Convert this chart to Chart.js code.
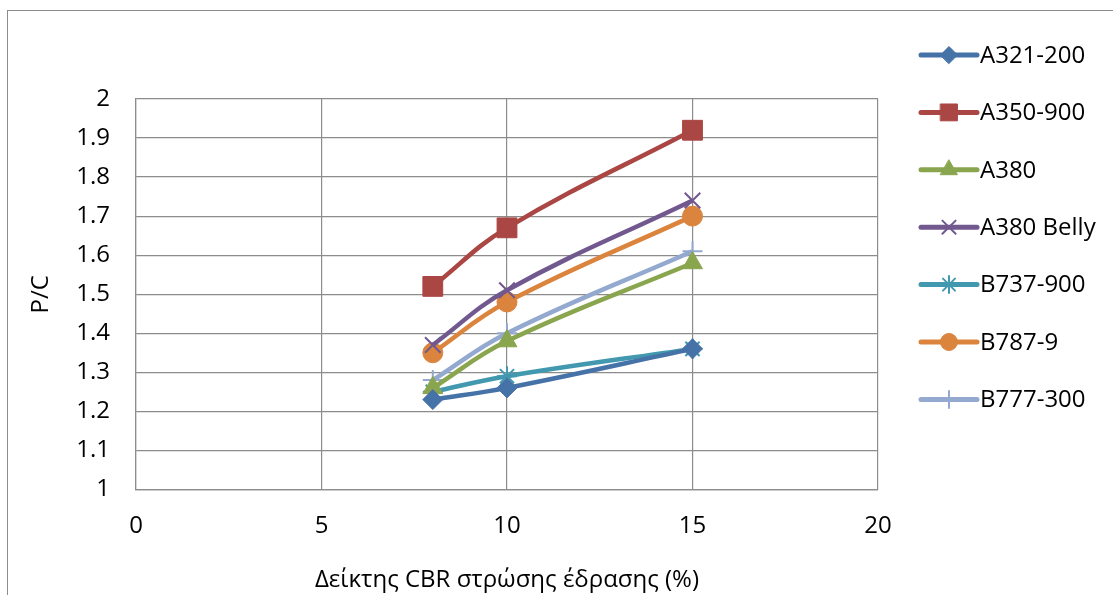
<!DOCTYPE html>
<html>
<head>
<meta charset="utf-8">
<script src="https://cdn.jsdelivr.net/npm/chart.js@4"></script>
<style>
  body { margin: 0; background: #fff; }
  #frame { position: absolute; left: 7px; top: 10px; width: 1200px; height: 700px; border: 1.5px solid #8c8c8c; }
  #wrap { position: absolute; left: 0; top: 0; width: 1113px; height: 595px; }
</style>
</head>
<body>
<div id="frame"></div>
<div id="wrap"><canvas id="lineChart"></canvas></div>
<script>
const cbr = [8, 10, 15]
const seriesNames = ['A321-200', 'A350-900', 'A380', 'A380 Belly', 'B737-900', 'B787-9', 'B777-300']
const a321 = [1.23, 1.26, 1.36]
const a350 = [1.52, 1.67, 1.92]
const a380 = [1.26, 1.38, 1.58]
const a380Belly = [1.37, 1.51, 1.74]
const b737 = [1.25, 1.29, 1.36]
const b787 = [1.35, 1.48, 1.70]
const b777 = [1.28, 1.40, 1.61]
const yTicks = [1, 1.1, 1.2, 1.3, 1.4, 1.5, 1.6, 1.7, 1.8, 1.9, 2]
const xTicks = [0, 5, 10, 15, 20]

const allValues = [a321, a350, a380, a380Belly, b737, b787, b777]
const colors = ['#4572A7', '#AA4643', '#89A54E', '#71588F', '#4198AF', '#DB843D', '#93A9CF']
const markers = [
    { style: 'rectRot', radius: 10, filled: true },
    { style: 'rect', radius: 14, filled: true },
    { style: 'triangle', radius: 11.5, filled: true },
    { style: 'crossRot', radius: 11, filled: false },
    { style: 'star', radius: 10, filled: false },
    { style: 'circle', radius: 10, filled: true },
    { style: 'cross', radius: 10, filled: false }
]

const font = "'Open Sans', 'Noto Sans', sans-serif"
const fontSize = 24

const datasets = allValues.map((values, i) => ({
    label: seriesNames[i],
    data: values.map((v, j) => ({ x: cbr[j], y: v })),
    borderColor: colors[i],
    backgroundColor: colors[i],
    borderWidth: 4.5,
    tension: 0.4,
    pointStyle: markers[i].style,
    pointRadius: markers[i].radius,
    pointBorderWidth: markers[i].filled ? 1 : 2,
    pointBorderColor: colors[i],
    pointBackgroundColor: colors[i]
}))

// legend drawn as Excel does: a short line with the marker in the middle
const sideLegend = {
    id: 'sideLegend',
    afterDraw(chart) {
        const ctx = chart.ctx
        const x0 = 921, x1 = 977, top = 55, step = 57.4
        chart.data.datasets.forEach((ds, i) => {
            const y = top + i * step
            ctx.save()
            ctx.strokeStyle = ds.borderColor
            ctx.lineWidth = 5
            ctx.lineCap = 'round'
            ctx.beginPath()
            ctx.moveTo(x0, y)
            ctx.lineTo(x1, y)
            ctx.stroke()
            ctx.fillStyle = ds.backgroundColor
            ctx.lineWidth = ds.pointBorderWidth
            Chart.helpers.drawPoint(ctx, { pointStyle: ds.pointStyle, radius: ds.pointRadius * 0.85, rotation: 0, borderWidth: ds.pointBorderWidth }, (x0 + x1) / 2, y)
            ctx.fillStyle = '#000'
            ctx.font = fontSize + "px " + font
            ctx.textBaseline = 'middle'
            ctx.textAlign = 'left'
            ctx.fillText(ds.label, 980, y + 1)
            ctx.restore()
        })
    }
}

new Chart("lineChart", {
    type: "scatter",
    data: { datasets: datasets },
    plugins: [sideLegend],
    options: {
        responsive: true,
        maintainAspectRatio: false,
        animation: false,
        showLine: true,
        layout: { padding: { left: 27, right: 235, top: 99, bottom: 0 } },
        plugins: {
            legend: { display: false },
            tooltip: { enabled: false }
        },
        scales: {
            x: {
                type: 'linear',
                min: 0,
                max: 20,
                afterBuildTicks: axis => { axis.ticks = xTicks.map(v => ({ value: v })) },
                grid: { color: '#8c8c8c', lineWidth: 1.2, drawTicks: false },
                border: { color: '#8c8c8c', width: 1.2 },
                ticks: { color: '#000', padding: 22, font: { family: font, size: fontSize }, callback: v => String(v) },
                title: { display: true, text: 'Δείκτης CBR στρώσης έδρασης (%)', color: '#000', padding: { top: 4, bottom: 0 }, font: { family: font, size: fontSize } }
            },
            y: {
                type: 'linear',
                min: 1,
                max: 2,
                afterBuildTicks: axis => { axis.ticks = yTicks.map(v => ({ value: v })) },
                afterFit: axis => { axis.width = 109 },
                grid: { color: '#8c8c8c', lineWidth: 1.2, drawTicks: false },
                border: { color: '#8c8c8c', width: 1.2 },
                ticks: { color: '#000', padding: 26, font: { family: font, size: fontSize }, callback: v => String(v) },
                title: { display: true, text: 'P/C', color: '#000', padding: { top: 0, bottom: 0 }, font: { family: font, size: fontSize } }
            }
        }
    }
});
</script>
</body>
</html>
